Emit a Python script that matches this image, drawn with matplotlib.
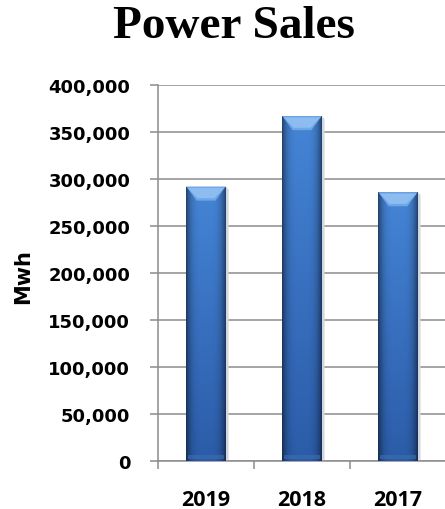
import numpy as np
import matplotlib
matplotlib.use("Agg")
import matplotlib.pyplot as plt
from matplotlib.patches import Polygon
from matplotlib.ticker import FuncFormatter

years = ["2019", "2018", "2017"]
sales = [292000, 367000, 286000]

W, H = 445, 510
fig = plt.figure(figsize=(W / 100, H / 100), dpi=100)
ax = fig.add_axes([158 / W, 48 / H, 288 / W, 376 / H])

x = np.arange(len(years))
bar_w = 0.41
bars = ax.bar(x, sales, width=bar_w, color="#3a74c2", zorder=3, linewidth=0)

# shading image for the bars: darker at the sides, a bit lighter near the top
rows, cols = 200, 60
u = np.linspace(-1, 1, cols)
v = np.linspace(0, 1, rows)[:, None]  # 0 = bottom, 1 = top
top_c = np.array([0.27, 0.52, 0.84])
bot_c = np.array([0.17, 0.36, 0.66])
base = bot_c + (top_c - bot_c) * v[..., None]
side = 1 - 0.5 * np.abs(u) ** 4
img = np.clip(base * side[None, :, None], 0, 1)

bevel_h = 15000
for b in bars:
    x0, x1 = b.get_x(), b.get_x() + b.get_width()
    h = b.get_height()
    b.set_facecolor("none")
    im = ax.imshow(img, extent=(x0, x1, 0, h), origin="lower", aspect="auto",
                   zorder=3, interpolation="bilinear")
    im.set_clip_path(b)
    # soft shadow on the right
    ax.add_patch(Polygon([(x1, 0), (x1 + 0.03, 0), (x1 + 0.03, h - 3000), (x1, h)],
                         closed=True, facecolor="#d3d6dc", edgecolor="none", zorder=2.5))
    # light top bevel
    inset = 0.26 * (x1 - x0)
    ax.add_patch(Polygon([(x0, h), (x1, h), (x1 - inset, h - bevel_h), (x0 + inset, h - bevel_h)],
                         closed=True, facecolor="#6fa6e6", edgecolor="none", zorder=4))
    ax.add_patch(Polygon([(x0 + 0.015, h - 1500), (x1 - 0.015, h - 1500),
                          (x1 - inset - 0.01, h - bevel_h + 2500), (x0 + inset + 0.01, h - bevel_h + 2500)],
                         closed=True, facecolor="#8cbcf0", edgecolor="none", zorder=4))
    # base band
    ax.add_patch(Polygon([(x0 + 0.02, 2500), (x1 - 0.02, 2500), (x1 - 0.02, 6000), (x0 + 0.02, 6000)],
                         closed=True, facecolor="#3f6fb0", edgecolor="none", zorder=4, alpha=0.6))

ax.set_xlim(-0.5, 2.5)
ax.set_ylim(0, 400000)
ax.set_yticks(np.arange(0, 400001, 50000))
ax.yaxis.set_major_formatter(FuncFormatter(lambda val, pos: f"{int(val):,}"))
ax.grid(axis="y", color="#8c8c8c", linewidth=1.1, zorder=1)
ax.set_axisbelow(True)

grey = "#8c8c8c"
for s in ["top", "right"]:
    ax.spines[s].set_visible(False)
for s in ["left", "bottom"]:
    ax.spines[s].set_color(grey)
    ax.spines[s].set_linewidth(1.1)

ax.set_xticks(x)
ax.set_xticklabels(years, fontfamily="Open Sans", fontweight="bold", fontsize=15.5)
ax.set_xticks([-0.5, 0.5, 1.5, 2.5], minor=True)
ax.tick_params(axis="x", which="major", length=0, pad=20)
ax.tick_params(axis="x", which="minor", length=6, width=1.1, color=grey, direction="out")
ax.tick_params(axis="y", length=6, width=1.1, color=grey, pad=14)
for lab in ax.get_yticklabels():
    lab.set_fontfamily("DejaVu Sans")
    lab.set_fontweight("bold")
    lab.set_fontsize(13)

fig.text(23 / W, 1 - 277 / H, "Mwh", rotation=90, ha="center", va="center",
         fontfamily="DejaVu Sans", fontweight="bold", fontsize=15)
fig.text(234 / W, 1 - 27 / H, "Power Sales", ha="center", va="center",
         fontfamily="Liberation Serif", fontweight="bold", fontsize=34)

fig.savefig("out.png", dpi=100)
